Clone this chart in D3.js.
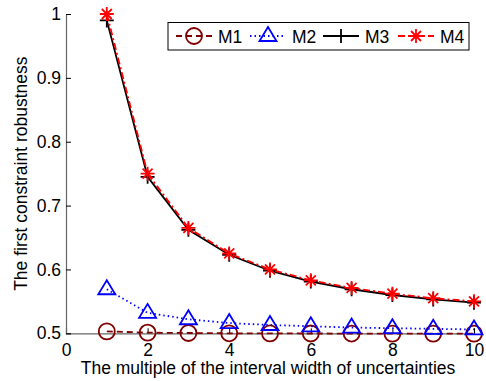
<!DOCTYPE html>
<html>
<head>
<meta charset="utf-8">
<script src="https://cdn.jsdelivr.net/npm/d3@7"></script>
<style>
  body { margin: 0; background: #fff; }
  text { font-family: "Liberation Sans", Arial, sans-serif; }
</style>
</head>
<body>
<svg id="chart" width="486" height="381"></svg>
<script>
// values
const xs = [1, 2, 3, 4, 5, 6, 7, 8, 9, 10];
const m1 = [0.503, 0.501, 0.5005, 0.5, 0.4998, 0.4997, 0.4996, 0.4995, 0.4995, 0.4994];
const m2 = [0.569, 0.532, 0.522, 0.516, 0.513, 0.511, 0.509, 0.508, 0.507, 0.506];
const m3 = [0.99, 0.745, 0.662, 0.623, 0.598, 0.581, 0.569, 0.560, 0.553, 0.548];
const m4 = [1.0, 0.75, 0.665, 0.625, 0.6, 0.583, 0.571, 0.562, 0.555, 0.55];
const seriesNames = ["M1", "M2", "M3", "M4"];
const xTicks = [0, 2, 4, 6, 8, 10];
const yTicks = [0.5, 0.6, 0.7, 0.8, 0.9, 1];

const size = { width: 486, height: 381, left: 66, right: 474, top: 14, bottom: 333.3 };
const fontSize = 17.5;

const svg = d3.select("#chart");

const xScale = d3.scaleLinear([0, 10], [size.left, size.right]);
const yScale = d3.scaleLinear([0.5, 1], [size.bottom, size.top]);

const styles = [
  { color: "#800000", dash: "6,4", marker: "circle" },
  { color: "#0000ff", dash: "1.5,3", marker: "triangle" },
  { color: "#000000", dash: null, marker: "plus" },
  { color: "#ff0000", dash: "7,3,2,3", marker: "star" }
];
const allSeries = [m1, m2, m3, m4];

// axes (MATLAB style: ticks inside)
const xAxis = svg.append("g")
  .attr("transform", `translate(0,${size.bottom})`)
  .call(d3.axisBottom(xScale).tickValues(xTicks).tickSize(-5).tickPadding(10).tickFormat(d3.format("d")));
const yAxis = svg.append("g")
  .attr("transform", `translate(${size.left},0)`)
  .call(d3.axisLeft(yScale).tickValues(yTicks).tickSize(-5).tickPadding(5).tickFormat(d => d === 1 ? "1" : d3.format(".1f")(d)));

[xAxis, yAxis].forEach(a => {
  a.select(".domain").attr("stroke", "#666").attr("stroke-width", 1.2);
  a.selectAll(".tick line").attr("stroke", "#000");
  a.selectAll(".tick text")
    .attr("font-size", fontSize)
    .attr("fill", "#000")
    .attr("font-family", "Liberation Sans, Arial, sans-serif");
});

// axis titles
svg.append("text")
  .attr("x", 268)
  .attr("y", 374)
  .attr("text-anchor", "middle")
  .attr("font-size", fontSize)
  .text("The multiple of the interval width of uncertainties");
svg.append("text")
  .attr("transform", `translate(27,${(size.top + size.bottom) / 2}) rotate(-90)`)
  .attr("text-anchor", "middle")
  .attr("font-size", fontSize)
  .text("The first constraint robustness");

function drawMarker(g, type, color) {
  if (type === "circle") {
    g.append("circle").attr("r", 8).attr("fill", "none").attr("stroke", color).attr("stroke-width", 1.8);
  } else if (type === "triangle") {
    g.append("path").attr("d", "M0,-9L8.5,5L-8.5,5Z").attr("fill", "none").attr("stroke", color).attr("stroke-width", 1.8);
  } else if (type === "plus") {
    g.append("path").attr("d", "M-7,0H7M0,-7V7").attr("stroke", color).attr("stroke-width", 1.8);
  } else {
    g.append("path").attr("d", "M-7,0H7M0,-7V7M-5,-5L5,5M-5,5L5,-5").attr("stroke", color).attr("stroke-width", 1.8);
  }
}

const line = d3.line().x((d, i) => xScale(xs[i])).y(d => yScale(d));

allSeries.forEach((vals, k) => {
  const st = styles[k];
  const g = svg.append("g");
  g.append("path")
    .attr("d", line(vals))
    .attr("fill", "none")
    .attr("stroke", st.color)
    .attr("stroke-width", 1.8)
    .attr("stroke-dasharray", st.dash);
  vals.forEach((v, i) => {
    const m = g.append("g").attr("transform", `translate(${xScale(xs[i])},${yScale(v)})`);
    drawMarker(m, st.marker, st.color);
  });
});

// legend
const legend = svg.append("g");
legend.append("rect")
  .attr("x", 168).attr("y", 22.5).attr("width", 301).attr("height", 27.5)
  .attr("fill", "#fff").attr("stroke", "#000").attr("stroke-width", 1);
const legendX = [176, 250, 323, 398];
seriesNames.forEach((name, k) => {
  const st = styles[k];
  const lx = legendX[k];
  legend.append("line")
    .attr("x1", lx).attr("x2", lx + 36).attr("y1", 36).attr("y2", 36)
    .attr("stroke", st.color).attr("stroke-width", 1.8)
    .attr("stroke-dasharray", st.dash);
  drawMarker(legend.append("g").attr("transform", `translate(${lx + 18},36)`), st.marker, st.color);
  legend.append("text")
    .attr("x", lx + 42).attr("y", 42.5)
    .attr("font-size", fontSize)
    .text(name);
});
</script>
</body>
</html>
